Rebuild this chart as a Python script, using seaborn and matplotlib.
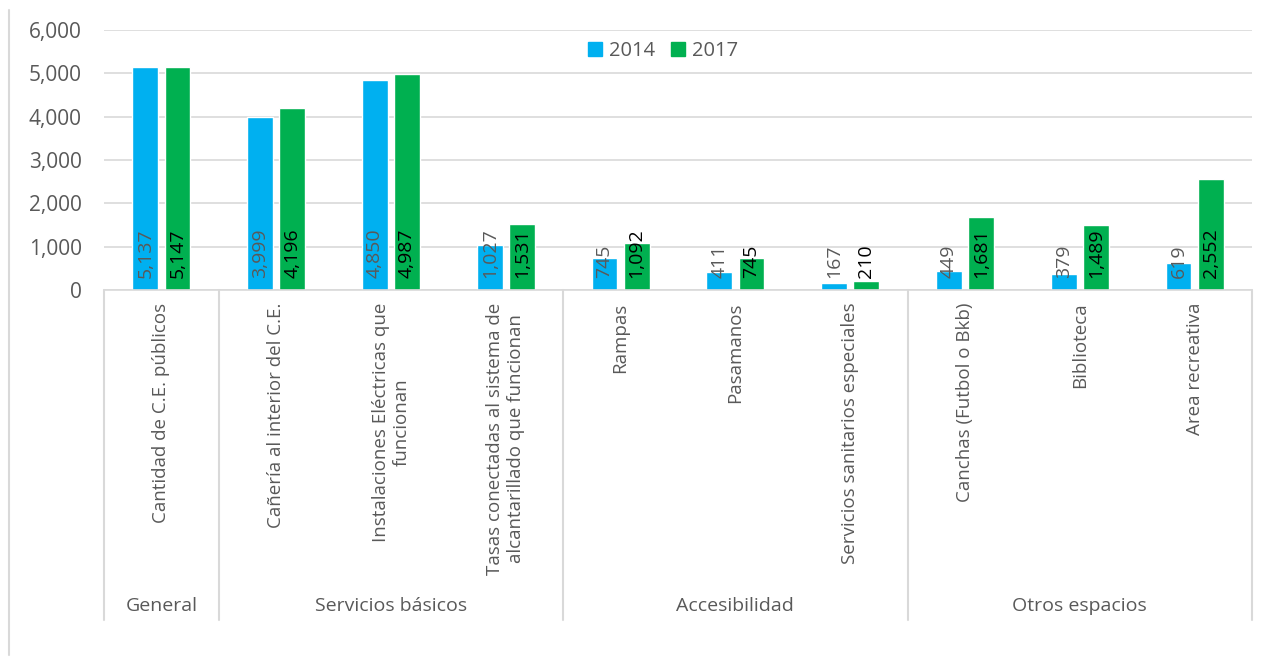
"""
Bar chart: infraestructura de C.E. publicos, 2014 vs 2017.
"""

import numpy as np
import pandas as pd
import matplotlib
matplotlib.use("Agg")
import matplotlib.pyplot as plt
from matplotlib.lines import Line2D
from matplotlib.ticker import FuncFormatter
import seaborn as sns

# Data
categories = [
    "Cantidad de C.E. públicos",
    "Cañería al interior del C.E.",
    "Instalaciones Eléctricas que\nfuncionan",
    "Tasas conectadas al sistema de\nalcantarillado que funcionan",
    "Rampas",
    "Pasamanos",
    "Servicios sanitarios especiales",
    "Canchas (Futbol o Bkb)",
    "Biblioteca",
    "Area recreativa",
]
values_2014 = [5137, 3999, 4850, 1027, 745, 411, 167, 449, 379, 619]
values_2017 = [5147, 4196, 4987, 1531, 1092, 745, 210, 1681, 1489, 2552]
years = ["2014", "2017"]
groups = ["General", "Servicios básicos", "Accesibilidad", "Otros espacios"]
group_sizes = [1, 3, 3, 3]

colors = {"2014": "#00B0F0", "2017": "#00B050"}
label_colors = {"2014": "#595959", "2017": "#000000"}
text_gray = "#595959"
line_gray = "#D9D9D9"

df = pd.DataFrame({
    "categoria": categories * 2,
    "anio": [years[0]] * len(categories) + [years[1]] * len(categories),
    "valor": values_2014 + values_2017,
})

sns.set_theme(style="white")
plt.rcParams["font.family"] = ["Open Sans", "DejaVu Sans"]

W, H = 1279, 660
fig = plt.figure(figsize=(W / 100, H / 100), dpi=100)
ax = fig.add_axes([104 / W, 1 - 290 / H, (1252 - 104) / W, 260 / H])

sns.barplot(
    data=df, x="categoria", y="valor", hue="anio",
    hue_order=years, order=categories, palette=colors,
    width=0.56, gap=0.2, dodge=True, ax=ax, errorbar=None,
    saturation=1, legend=True,
)

ax.set_xlim(-0.5, len(categories) - 0.5)
ax.set_ylim(0, 6000)
ax.set_yticks(np.arange(0, 6001, 1000))
ax.yaxis.set_major_formatter(FuncFormatter(lambda v, _: f"{int(v):,}"))
ax.grid(axis="y", color=line_gray, linewidth=1.2)
ax.set_axisbelow(True)
for side in ["top", "right", "left"]:
    ax.spines[side].set_visible(False)
ax.spines["bottom"].set_color(line_gray)
ax.spines["bottom"].set_linewidth(1.2)
ax.set_xlabel("")
ax.set_ylabel("")

ax.tick_params(axis="y", length=0, pad=16, labelsize=15, labelcolor=text_gray)
ax.tick_params(axis="x", length=0, pad=9, labelsize=13.5, labelcolor=text_gray)
ax.set_xticks(range(len(categories)))
ax.set_xticklabels(categories, rotation=90, ha="center", va="top",
                   multialignment="center")

# data labels at the base of each bar
for year, container in zip(years, ax.containers):
    for patch in container:
        x = patch.get_x() + patch.get_width() / 2
        ax.annotate(f"{int(round(patch.get_height())):,}", xy=(x, 0),
                    xytext=(0, 9), textcoords="offset points",
                    rotation=90, ha="center", va="bottom",
                    fontsize=14, color=label_colors[year])

# legend
handles = [plt.Rectangle((0, 0), 1, 1, color=colors[y]) for y in years]
ax.legend(handles, years, loc="center", bbox_to_anchor=(0.487, 0.919),
          ncol=2, frameon=False, fontsize=14.5, labelcolor=text_gray,
          handlelength=0.7, handleheight=0.7, handletextpad=0.35,
          columnspacing=0.8)

# group table below the axis
trans = ax.get_xaxis_transform()
bottom = -330 / 260
edges = np.concatenate([[0], np.cumsum(group_sizes)]) - 0.5
for e in edges:
    ax.plot([e, e], [0, bottom], transform=trans, color=line_gray,
            linewidth=1.5, clip_on=False)
for g, a, b in zip(groups, edges[:-1], edges[1:]):
    ax.text((a + b) / 2, -316 / 260, g, transform=trans, ha="center",
            va="center", fontsize=14, color=text_gray)

# chart area border (left edge)
fig.add_artist(Line2D([9 / W, 9 / W], [1 - 10 / H, 1 - 655 / H],
                      color=line_gray, linewidth=1.5))

fig.savefig("out.png", dpi=100)
